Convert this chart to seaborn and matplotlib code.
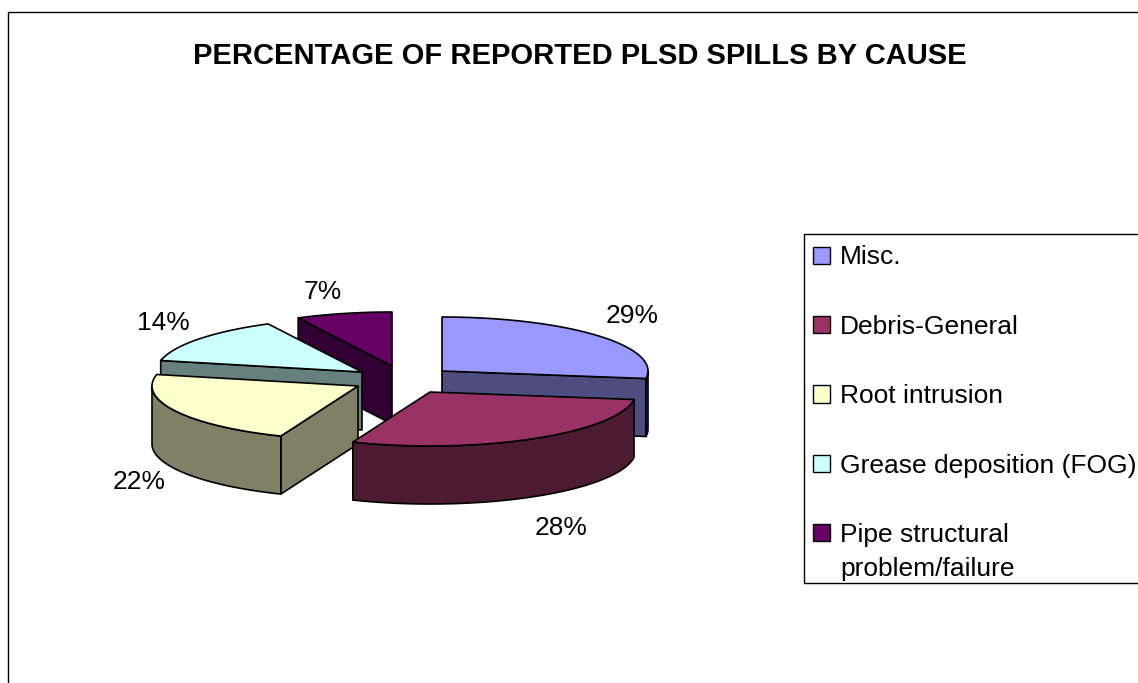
import numpy as np
import matplotlib
matplotlib.use("Agg")
import matplotlib.pyplot as plt
from matplotlib.patches import Polygon, Patch, Rectangle
import seaborn as sns

# ---- data ----
categories = ["Misc.", "Debris-General", "Root intrusion",
              "Grease deposition (FOG)", "Pipe structural\nproblem/failure"]
percent = [29, 28, 22, 14, 7]
title = "PERCENTAGE OF REPORTED PLSD SPILLS BY CAUSE"

# ---- style / layout (pixels of the 1138x683 canvas) ----
top_colors = ["#9999FF", "#993366", "#FFFFCC", "#CCFFFF", "#660066"]
wall_colors = ["#4D4D80", "#4D1A33", "#808066", "#668080", "#330033"]
CENTER = (397, 376)
EXPLODE = [(45, -5), (33, 16), (-39, 10), (-35, -4), (-5, -10)]
LABEL_POS = [(632, 316), (561, 528), (139, 482), (163, 323), (323, 292)]
RX, RY, DEPTH = 206, 54, 58
DRAW_ORDER = [4, 3, 2, 0, 1]
# foreshortening of the tilted pie: angle (deg) -> correction (deg)
TILT_AT = [0, 104.4, 205.2, 284.4, 334.8, 360]
TILT_BY = [0, 6.4, 3.2, 2.1, 1.9, 0]

sns.set_theme(style="white")
plt.rcParams["font.family"] = ["Liberation Sans", "DejaVu Sans"]
palette = sns.color_palette(top_colors)
wall_palette = sns.color_palette(wall_colors)

fig = plt.figure(figsize=(11.38, 6.83), dpi=100)
ax = fig.add_axes([0, 0, 1, 1])
ax.set_xlim(0, 1138)
ax.set_ylim(683, 0)
ax.axis("off")


def warp(theta):
    return theta - np.interp(theta, TILT_AT, TILT_BY)


def ring(a0, a1, ox, oy):
    th = np.radians(np.linspace(a0, a1, 80))
    return np.column_stack([ox + RX * np.sin(th), oy - RY * np.cos(th)])


EDGE = dict(edgecolor="black", linewidth=1.2, joinstyle="round")
ends = np.cumsum(percent) / np.sum(percent) * 360.0
starts = np.concatenate([[0.0], ends[:-1]])

for i in DRAW_ORDER:
    a0, a1 = warp(starts[i]), warp(ends[i])
    ox, oy = CENTER[0] + EXPLODE[i][0], CENTER[1] + EXPLODE[i][1]
    apex = np.array([[ox, oy]])
    drop = np.array([0, DEPTH])
    # radial wall on the start side faces the viewer past the front of the pie
    if a0 > 180:
        rim = ring(a0, a0, ox, oy)[:1]
        wall = np.vstack([apex, rim, rim + drop, apex + drop])
        ax.add_patch(Polygon(wall, facecolor=wall_palette[i], **EDGE))
    # radial wall on the end side faces the viewer before the front of the pie
    if a1 < 180:
        rim = ring(a1, a1, ox, oy)[:1]
        wall = np.vstack([apex, rim, rim + drop, apex + drop])
        ax.add_patch(Polygon(wall, facecolor=wall_palette[i], **EDGE))
    # outer curved wall, visible over the front half only
    w0, w1 = max(a0, 90), min(a1, 270)
    if w1 > w0:
        rim = ring(w0, w1, ox, oy)
        wall = np.vstack([rim, (rim + drop)[::-1]])
        ax.add_patch(Polygon(wall, facecolor=wall_palette[i], **EDGE))
    # top face
    ax.add_patch(Polygon(np.vstack([apex, ring(a0, a1, ox, oy)]),
                         facecolor=palette[i], **EDGE))

for value, (x, y) in zip(percent, LABEL_POS):
    ax.text(x, y, f"{value}%", ha="center", va="center", fontsize=19, color="black")

ax.text(580, 56, title, ha="center", va="center", fontsize=21,
        fontweight="bold", color="black")

# chart area border (runs off the right and bottom of the canvas)
ax.plot([8, 8, 1138], [683, 12, 12], color="black", linewidth=1.0, clip_on=False)

# legend box: open towards the right edge of the canvas
ax.plot([1138, 804, 804, 1138], [234, 234, 583, 583], color="black", linewidth=1.0)

handles = [Patch(facecolor=c, edgecolor="black", linewidth=1.0) for c in palette]
leg = ax.legend(handles, categories, loc="upper left", bbox_to_anchor=(804, 236),
                bbox_transform=ax.transData, fontsize=19, frameon=False,
                borderaxespad=0, borderpad=0.36,
                handlelength=0.62, handleheight=0.62, handletextpad=0.38,
                labelspacing=1.72, labelcolor="black")
for t in leg.get_texts():
    t.set_linespacing(1.5)
# two-line entry: its marker sits beside the first line
last = leg.legend_handles[-1]
last.set_y(last.get_y() + 14)

fig.savefig("out.png", dpi=100, facecolor="white")
